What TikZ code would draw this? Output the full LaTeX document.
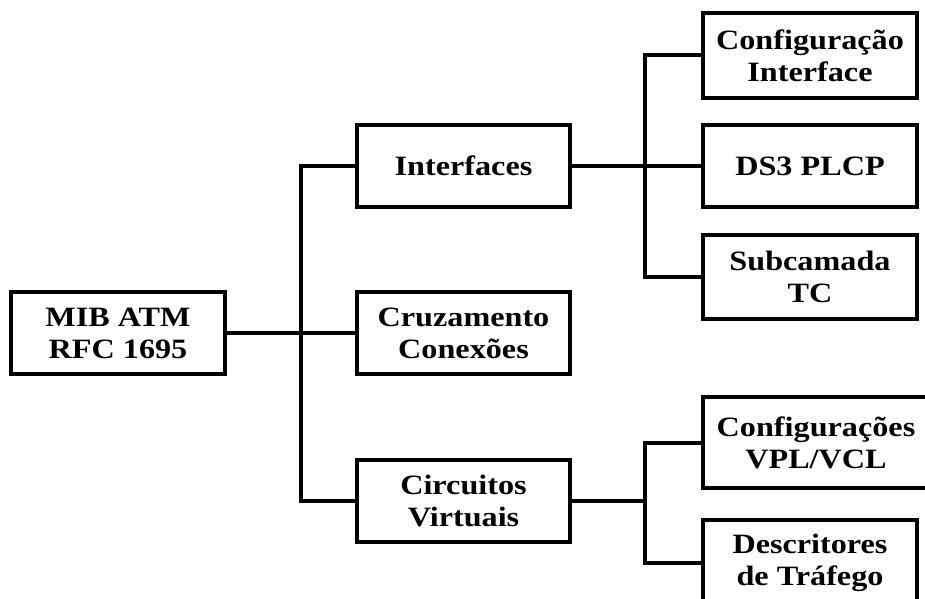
\documentclass[tikz,border=0pt]{standalone}
\usepackage{fontspec}
\newfontfamily\boxfont{Liberation Serif}[FakeStretch=1.15]
\begin{document}
\begin{tikzpicture}[x=0.75pt,y=-0.75pt,
  conn/.style={line width=3pt},
  box/.style={draw,line width=3pt,align=center,inner sep=0pt,
    minimum width=160pt,minimum height=62pt,
    font=\boxfont\bfseries\fontsize{21}{24}\selectfont}]
\useasboundingbox (0,0) rectangle (925,599);
\clip (0,0) rectangle (925,599);

% level 0
\node[box] (mib) at (118,333) {MIB ATM\\RFC 1695};

% level 1
\node[box] (int)  at (463.5,166) {Interfaces};
\node[box] (cruz) at (463.5,333) {Cruzamento\\Conex\~oes};
\node[box] (circ) at (463.5,501) {Circuitos\\Virtuais};

% level 2, interfaces
\node[box,minimum height=64pt] (cfgi) at (810,55.5) {Configura\c{c}\~ao\\Interface};
\node[box] (ds3)  at (810,166) {DS3 PLCP};
\node[box,minimum height=63pt] (tc)   at (810,277) {Subcamada\\TC};

% level 2, virtual circuits
\node[box,minimum width=170pt,minimum height=68pt] (vpl) at (816,442.5) {Configura\c{c}\~oes\\VPL/VCL};
\node[box,minimum height=64pt] (desc) at (810,563) {Descritores\\de Tr\'afego};

% bus junctions
\coordinate (b1) at (301,333);
\coordinate (b2) at (645,166);
\coordinate (b3) at (645,501);

% connectors
\draw[conn] (mib.east) -- (cruz.west);
\draw[conn] (int.west) -| (b1) |- (circ.west);
\draw[conn] (int.east) -- (ds3.west);
\draw[conn] (cfgi.west) -| (b2) |- (tc.west);
\draw[conn] (circ.east) -- (b3);
\draw[conn] (vpl.west) -| (b3) |- (desc.west);
\end{tikzpicture}
\end{document}
